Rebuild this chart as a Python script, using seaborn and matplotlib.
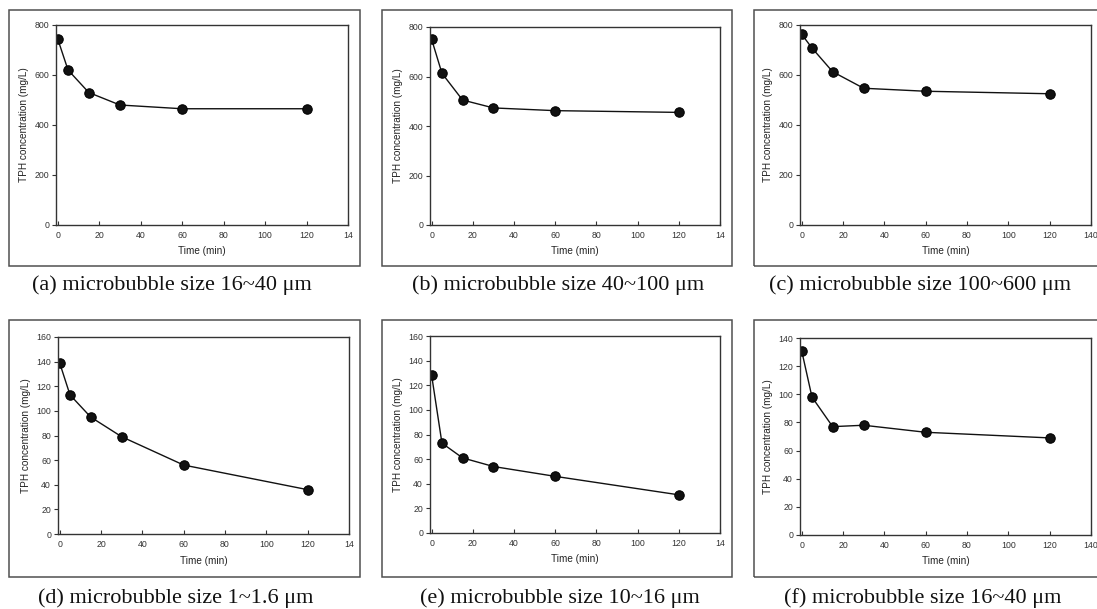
import matplotlib
matplotlib.use("Agg")
import matplotlib.pyplot as plt
from matplotlib.patches import Rectangle
import seaborn as sns
import pandas as pd

sns.set_style("ticks")
plt.rcParams['font.family'] = ['Liberation Sans', 'DejaVu Sans']

time_min = [0, 5, 15, 30, 60, 120]
tph_a = [745, 620, 530, 480, 465, 465]
tph_b = [750, 613, 505, 473, 462, 455]
tph_c = [763, 708, 613, 547, 535, 525]
tph_d = [139, 113, 95, 79, 56, 36]
tph_e = [128, 73, 61, 54, 46, 31]
tph_f = [131, 98, 77, 78, 73, 69]

captions = ["(a) microbubble size 16~40 μm", "(b) microbubble size 40~100 μm",
            "(c) microbubble size 100~600 μm", "(d) microbubble size 1~1.6 μm",
            "(e) microbubble size 10~16 μm", "(f) microbubble size 16~40 μm"]
x_ticks = [0, 20, 40, 60, 80, 100, 120, 140]
x_labels_cut = ["0", "20", "40", "60", "80", "100", "120", "14"]
x_labels_full = ["0", "20", "40", "60", "80", "100", "120", "140"]
y_ticks_800 = [0, 200, 400, 600, 800]
y_ticks_160 = [0, 20, 40, 60, 80, 100, 120, 140, 160]
y_ticks_140 = [0, 20, 40, 60, 80, 100, 120, 140]

W, H = 1097, 609
fig = plt.figure(figsize=(W / 100, H / 100), dpi=100)

# panel layout in pixels: axes (l, r, t, b), frame (l, r, t, b), caption (cx, cy)
panels = [
    (tph_a, y_ticks_800, x_labels_cut, (56, 348, 25, 225), (9, 360, 10, 266), (172, 285)),
    (tph_b, y_ticks_800, x_labels_cut, (430, 720, 27, 225), (382, 732, 10, 266), (558, 285)),
    (tph_c, y_ticks_800, x_labels_full, (800, 1091, 25, 225), (754, 1110, 10, 266), (920, 285)),
    (tph_d, y_ticks_160, x_labels_cut, (58, 349, 337, 534), (9, 360, 320, 577), (176, 598)),
    (tph_e, y_ticks_160, x_labels_cut, (430, 720, 336, 533), (382, 732, 320, 577), (560, 598)),
    (tph_f, y_ticks_140, x_labels_full, (800, 1091, 338, 535), (754, 1110, 320, 577), (923, 598)),
]

for p, text in zip(panels, captions):
    vals, yt, xl, ax_px, fr_px, cap = p
    fl, frr, ft, fb = fr_px
    fig.patches.append(Rectangle((fl / W, 1 - fb / H), (frr - fl) / W, (fb - ft) / H,
                                 transform=fig.transFigure, fill=False,
                                 edgecolor='#505050', linewidth=1.1, zorder=0))
    l, r, t, b = ax_px
    ax = fig.add_axes([l / W, 1 - b / H, (r - l) / W, (b - t) / H])
    df = pd.DataFrame({"Time (min)": time_min, "TPH": vals})
    sns.lineplot(data=df, x="Time (min)", y="TPH", marker='o', color='#111111',
                 markersize=6.8, linewidth=1.0, markeredgecolor='black', ax=ax)
    ax.set_xlim(-0.8, 140)
    ax.set_ylim(0, yt[-1])
    ax.set_xticks(x_ticks)
    ax.set_xticklabels(xl)
    ax.set_yticks(yt)
    ax.tick_params(axis='x', direction='in', length=3, width=0.8, labelsize=6.3, pad=4, colors='#333333')
    ax.tick_params(axis='y', direction='out', length=3, width=0.8, labelsize=6.3, pad=2, colors='#333333')
    for s in ax.spines.values():
        s.set_color('#333333')
        s.set_linewidth(1.0)
    ax.set_xlabel("Time (min)", fontsize=7.2, labelpad=5, color='#222222')
    ax.set_ylabel("TPH concentration (mg/L)", fontsize=7.2, labelpad=4, color='#222222')
    fig.text(cap[0] / W, 1 - cap[1] / H, text, ha='center', va='center',
             fontsize=16, family=['Liberation Serif', 'DejaVu Serif'], color='#111111')

fig.savefig("out.png", dpi=100)
